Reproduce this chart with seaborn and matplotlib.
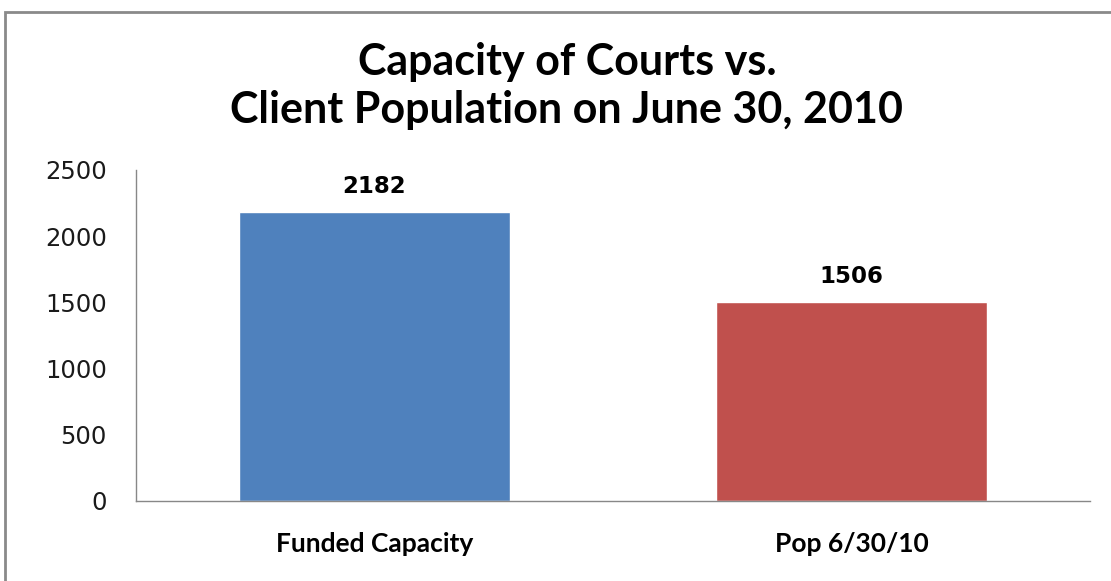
import matplotlib
matplotlib.use("Agg")
import matplotlib.pyplot as plt
import seaborn as sns
import pandas as pd
from matplotlib.patches import Rectangle

categories = ["Funded Capacity", "Pop 6/30/10"]
values = [2182, 1506]
bar_colors = ["#4F81BD", "#C0504D"]
yticks = [0, 500, 1000, 1500, 2000, 2500]

sns.set_theme(style="white")
plt.rcParams['font.family'] = ['DejaVu Sans']

df = pd.DataFrame({"category": categories, "value": values})

fig = plt.figure(figsize=(11.11, 5.81), dpi=100)
ax = fig.add_axes([136/1111, 1-501/581, (1090-136)/1111, (501-170)/581])
sns.barplot(data=df, x="category", y="value", hue="category", palette=bar_colors,
            width=0.57, ax=ax, legend=False, saturation=1)

ax.set_ylim(0, 2500)
ax.set_yticks(yticks)
ax.set_yticklabels([str(t) for t in yticks], fontsize=17.5, color="#1a1a1a")
ax.tick_params(axis="y", length=0, pad=21)
ax.tick_params(axis="x", length=0, pad=22)
for lab in ax.get_xticklabels():
    lab.set_fontweight("bold")
    lab.set_fontsize(19)
    lab.set_color("black")
    lab.set_family(["Lato", "DejaVu Sans"])
ax.set_xlabel("")
ax.set_ylabel("")
for s in ["top", "right"]:
    ax.spines[s].set_visible(False)
for s in ["left", "bottom"]:
    ax.spines[s].set_color("#888888")
    ax.spines[s].set_linewidth(1.0)

for i, v in enumerate(values):
    ax.annotate(str(v), (i, v), xytext=(0, 10), textcoords="offset points",
                ha="center", va="bottom", fontsize=16.5, fontweight="bold", color="black")

fig.text(567/1111, 1-62/581, "Capacity of Courts vs.", ha="center", va="center",
         fontsize=31, fontweight="bold", color="black", family=["Lato", "DejaVu Sans"])
fig.text(567/1111, 1-110/581, "Client Population on June 30, 2010", ha="center", va="center",
         fontsize=31, fontweight="bold", color="black", family=["Lato", "DejaVu Sans"])

fig.patches.append(Rectangle((5/1111, -0.1), 2.0, 1 - 12/581 + 0.1, transform=fig.transFigure,
                             fill=False, edgecolor="#8a8a8a", linewidth=2.0))

fig.savefig("out.png", dpi=100)
